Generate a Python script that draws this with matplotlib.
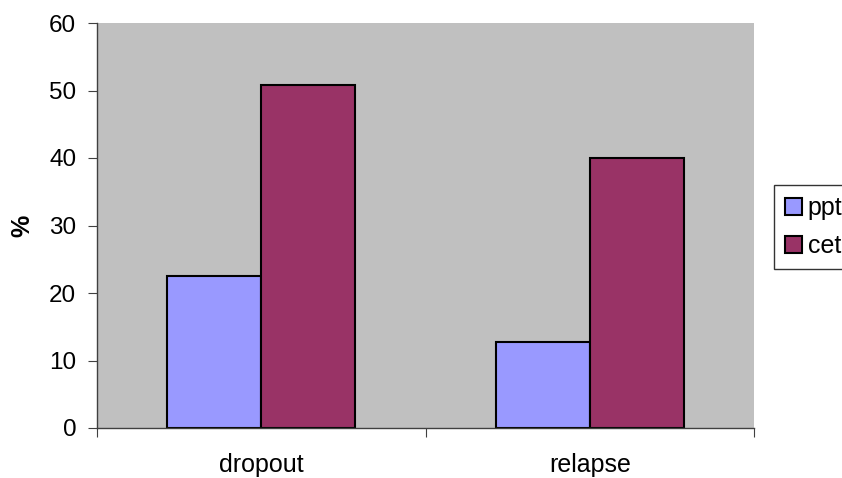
import matplotlib
matplotlib.use("Agg")
import matplotlib.pyplot as plt
import numpy as np

categories = ["dropout", "relapse"]
series_names = ["ppt", "cet"]
ppt_values = [22.5, 12.7]
cet_values = [50.8, 40.0]
colors = ["#9999FF", "#993366"]

plt.rcParams["font.family"] = ["Liberation Sans", "DejaVu Sans"]

fig = plt.figure(figsize=(8.42, 4.78), dpi=100)
ax = fig.add_axes([97/842, 1 - 428/478, (754-97)/842, (428-23)/478])
ax.set_facecolor("#C0C0C0")

x = np.arange(len(categories))
w = 0.286
b1 = ax.bar(x - w/2, ppt_values, w, color=colors[0], edgecolor="black", linewidth=1.5, label=series_names[0])
b2 = ax.bar(x + w/2, cet_values, w, color=colors[1], edgecolor="black", linewidth=1.5, label=series_names[1])

ax.set_xlim(-0.5, 1.5)
ax.set_ylim(0, 60)
ax.set_yticks(np.arange(0, 61, 10))
ax.set_xticks([-0.5, 0.5, 1.5])
ax.set_xticklabels([])
ax.set_xticks(x, minor=True)
ax.set_xticklabels(categories, minor=True, fontsize=18)
ax.tick_params(axis="x", which="minor", length=0, pad=18)
ax.tick_params(axis="x", which="major", length=6.5, direction="out", color="#404040")
ax.tick_params(axis="y", length=6.5, direction="out", labelsize=17.5, color="#404040", pad=8.5)
for s in ["top", "right"]:
    ax.spines[s].set_visible(False)
for s in ["left", "bottom"]:
    ax.spines[s].set_color("#404040")
    ax.spines[s].set_linewidth(1)

fig.text(22/842, 1 - 226/478, "%", fontsize=18, fontweight="bold",
         rotation=90, ha="center", va="center")

leg = fig.legend(handles=[b1, b2], labels=series_names, loc="upper left",
                 bbox_to_anchor=(774/842, 1 - 185/478), fontsize=18,
                 frameon=True, fancybox=False, edgecolor="black",
                 handlelength=0.65, handleheight=0.65, handletextpad=0.25,
                 borderpad=0.45, labelspacing=0.55, borderaxespad=0)
leg.get_frame().set_linewidth(1)

fig.savefig("out.png", dpi=100, facecolor="white")
